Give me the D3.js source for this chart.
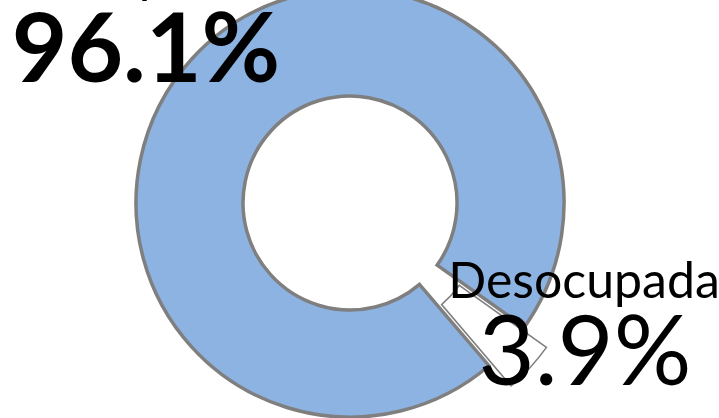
<!DOCTYPE html>
<meta charset="utf-8">
<style>
body { margin: 0; background: #fff; }
svg { display: block; }
text { font-family: Lato, "Open Sans", sans-serif; fill: #000; }
</style>
<svg width="719" height="418"></svg>
<script src="https://d3js.org/d3.v7.min.js"></script>
<script>

var categories = ["Ocupada", "Desocupada"];
var values = [96.1, 3.9];
var valueLabels = ["96.1%", "3.9%"];

var svg = d3.select("svg");

var cx = 350, cy = 203,
  outer = 214, inner = 107,
  explode = 30;

var start = 139.5 * Math.PI / 180;

var pie = d3.pie()
  .sort(null)
  .startAngle(start)
  .endAngle(start + 2 * Math.PI)
  .value(function(d) { return d; });

var arc = d3.arc()
  .innerRadius(inner)
  .outerRadius(outer);

var slices = pie(values);

var g = svg.append("g")
  .attr("transform", "translate(" + cx + "," + cy + ")");

g.selectAll("path")
  .data(slices)
  .enter().append("path")
    .attr("d", arc)
    .attr("fill", function(d, i) { return i === 0 ? "#8db3e2" : "#ffffff"; })
    .attr("stroke", "#7f7f7f")
    .attr("stroke-width", function(d, i) { return i === 0 ? 3.5 : 1.6; })
    .attr("stroke-linejoin", "miter")
    .attr("transform", function(d, i) {
      if (i === 0) return null;
      var mid = (d.startAngle + d.endAngle) / 2;
      return "translate(" + (Math.sin(mid) * explode) + "," + (-Math.cos(mid) * explode) + ")";
    });

// labels: Ocupada (top left, mostly off the top edge) and Desocupada (bottom right)
svg.append("text")
  .attr("x", 146).attr("y", -8)
  .attr("text-anchor", "middle")
  .attr("font-size", "50px")
  .text(categories[0]);

svg.append("text")
  .attr("x", 146).attr("y", 82)
  .attr("text-anchor", "middle")
  .attr("font-size", "96px")
  .attr("font-weight", "bold")
  .text(valueLabels[0]);

svg.append("text")
  .attr("x", 584).attr("y", 298)
  .attr("text-anchor", "middle")
  .attr("font-size", "50px")
  .text(categories[1]);

svg.append("text")
  .attr("x", 585).attr("y", 385)
  .attr("text-anchor", "middle")
  .attr("font-size", "97px")
  .text(valueLabels[1]);

</script>
